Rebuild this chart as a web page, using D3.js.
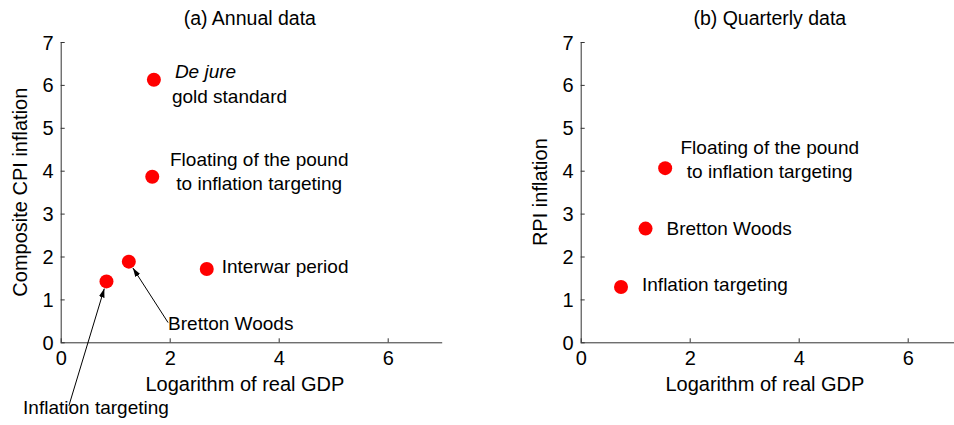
<!DOCTYPE html>
<html>
<head>
<meta charset="utf-8">
<script src="https://cdn.jsdelivr.net/npm/d3@7"></script>
<style>
  body { margin: 0; background: #fff; }
  text { font-family: Arial, "Liberation Sans", sans-serif; fill: #000; }
</style>
</head>
<body>
<script>
// data
const annualNames = ['De jure gold standard', 'Floating to IT', 'Interwar period', 'Bretton Woods', 'Inflation targeting']
const annualGdp = [1.71, 1.68, 2.68, 1.25, 0.84]
const annualCpi = [6.12, 3.86, 1.71, 1.88, 1.42]

const quarterNames = ['Floating to IT', 'Bretton Woods', 'Inflation targeting']
const quarterGdp = [1.55, 1.19, 0.74]
const quarterRpi = [4.06, 2.65, 1.29]

const xTicks = [0, 2, 4, 6]
const yTicks = [0, 1, 2, 3, 4, 5, 6, 7]

const W = 954, H = 425
const svg = d3.select('body').append('svg').attr('width', W).attr('height', H)

svg.append('defs').append('marker')
  .attr('id', 'head').attr('viewBox', '0 0 10 10')
  .attr('refX', 10).attr('refY', 5)
  .attr('markerWidth', 9).attr('markerHeight', 9)
  .attr('markerUnits', 'userSpaceOnUse')
  .attr('orient', 'auto')
  .append('path').attr('d', 'M0,1.8 L10,5 L0,8.2 Z').attr('fill', '#000')

function panel(left, title, yTitle, gdp, infl) {
  let x = d3.scaleLinear().domain([0, 7]).range([left, left + 381.5])
  let y = d3.scaleLinear().domain([0, 7]).range([342.3, 42])
  let g = svg.append('g')

  let ya = g.append('g').attr('transform', 'translate(' + left + ',0)')
    .call(d3.axisRight(y).tickValues(yTicks).tickSize(4).tickFormat(d3.format('d')))
  ya.selectAll('text').attr('x', -7).attr('text-anchor', 'end').attr('dy', '0.35em')
  let xa = g.append('g').attr('transform', 'translate(0,342.3)')
    .call(d3.axisTop(x).tickValues(xTicks).tickSize(4).tickFormat(d3.format('d')))
  xa.selectAll('text').attr('y', 23).attr('dy', 0)
  g.selectAll('.domain').attr('stroke', '#333').attr('d', null)
  ya.select('.domain').attr('d', 'M0.5,' + y(7) + 'V' + y(0))
  xa.select('.domain').attr('d', 'M' + x(0) + ',0.5H' + x(7))
  g.selectAll('.tick line').attr('stroke', '#333')
  g.selectAll('.tick text').style('font-size', '20px').style('font-family', 'Arial, "Liberation Sans", sans-serif').attr('fill', '#000')

  g.append('text').attr('x', x(3.47)).attr('y', 25).attr('text-anchor', 'middle')
    .style('font-size', '19.5px').text(title)
  g.append('text').attr('x', x(3.38)).attr('y', 391).attr('text-anchor', 'middle')
    .style('font-size', '20px').text('Logarithm of real GDP')
  g.append('text').attr('transform', 'translate(' + (left - 33.5) + ',' + y(3.5) + ') rotate(-90)')
    .attr('text-anchor', 'middle').style('font-size', '20px').text(yTitle)

  g.selectAll('circle').data(gdp).join('circle')
    .attr('cx', d => x(d)).attr('cy', (d, i) => y(infl[i])).attr('r', 7)
    .attr('fill', '#f00')
  return {x, y, g}
}

function label(g, px, py, lines, anchor) {
  let t = g.append('text').attr('text-anchor', anchor || 'start').style('font-size', '19px')
  lines.forEach(l => {
    let s = t.append('tspan').attr('x', px + l[0]).attr('y', py + l[1])
    if (l[3]) s.style('font-style', 'italic')
    s.text(l[2])
  })
}

function arrow(g, x1, y1, x2, y2) {
  // stop at the marker edge
  let dx = x2 - x1, dy = y2 - y1, len = Math.sqrt(dx * dx + dy * dy)
  let k = (len - 7.5) / len
  g.append('line').attr('x1', x1).attr('y1', y1)
    .attr('x2', x1 + dx * k).attr('y2', y1 + dy * k)
    .attr('stroke', '#000').attr('stroke-width', 1).attr('marker-end', 'url(#head)')
}

// (a) annual
let a = panel(60.7, '(a) Annual data', 'Composite CPI inflation', annualGdp, annualCpi)
label(a.g, a.x(annualGdp[0]), a.y(annualCpi[0]), [[21, -2, 'De jure', true], [18, 23, 'gold standard']])
label(a.g, a.x(annualGdp[1]), a.y(annualCpi[1]), [[107, -11, 'Floating of the pound'], [107, 13, 'to inflation targeting']], 'middle')
label(a.g, a.x(annualGdp[2]), a.y(annualCpi[2]), [[15, 4.5, 'Interwar period']])
label(a.g, a.x(1.97), a.y(0.46), [[0, 7.5, 'Bretton Woods']])
label(a.g, a.x(-0.69), a.y(-1.68), [[0, 0, 'Inflation targeting']])
arrow(a.g, a.x(1.97), a.y(0.46), a.x(annualGdp[3]), a.y(annualCpi[3]))
arrow(a.g, a.x(0.15), a.y(-1.48), a.x(annualGdp[4]), a.y(annualCpi[4]))

// (b) quarterly
let b = panel(580.7, '(b) Quarterly data', 'RPI inflation', quarterGdp, quarterRpi)
label(b.g, b.x(quarterGdp[0]), b.y(quarterRpi[0]), [[104.6, -14, 'Floating of the pound'], [104.6, 10, 'to inflation targeting']], 'middle')
label(b.g, b.x(quarterGdp[1]), b.y(quarterRpi[1]), [[21, 6, 'Bretton Woods']])
label(b.g, b.x(quarterGdp[2]), b.y(quarterRpi[2]), [[21, 4.5, 'Inflation targeting']])
</script>
</body>
</html>
